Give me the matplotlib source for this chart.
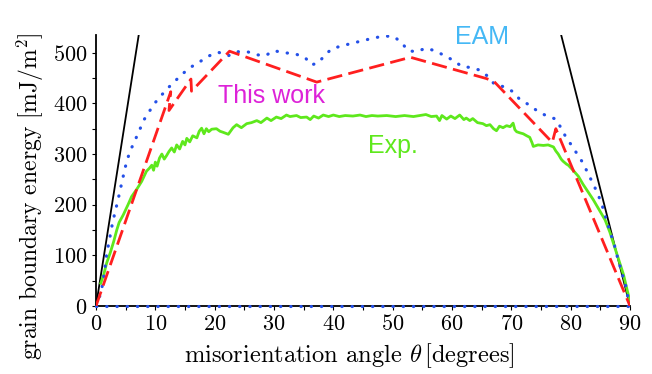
import matplotlib
matplotlib.use("Agg")
import matplotlib.pyplot as plt

plt.rcParams['font.family'] = 'serif'
plt.rcParams['font.serif'] = ['cmr10']
plt.rcParams['mathtext.fontset'] = 'cm'
plt.rcParams['axes.formatter.use_mathtext'] = True

# ---- data ----
theta_eam = [0, 0.84, 1.18, 1.4, 1.68, 1.8, 2.2, 2.47, 2.81, 3.2,
             3.64, 4.04, 4.43, 4.8, 5.2, 5.84, 6.57, 7.3, 8.0, 8.98,
             9.8, 10.95, 12.1, 13.4, 14.65, 16.05, 17.6, 19.1, 20.6, 22.3,
             23.7, 25.5, 27.1, 28.5, 30.0, 31.7, 33.5, 35.2, 36.3, 37.5,
             38.6, 39.8, 41.55, 43.3, 45.0, 46.8, 48.5, 50.2, 51.5, 52.6,
             54.0, 55.6, 57.1, 58.8, 60.5, 61.6, 63.0, 64.6, 66.1, 67.2,
             68.7, 70.3, 71.4, 73.0, 74.5, 76.0, 77.5, 78.4, 79.3, 80.3,
             81.2, 82.1, 82.9, 83.8, 84.5, 85.2, 85.7, 86.2, 86.7, 87.3,
             87.7, 88.2, 88.6, 89.2, 89.5, 90.0]
energy_eam = [0, 26, 48, 68, 88, 106, 125, 145, 165, 185,
              206, 227, 248, 267, 287, 308, 327, 346, 366, 384,
              399, 415, 430, 445, 459, 472, 483, 494, 501, 494,
              502, 502, 496, 494, 504, 500, 498, 491, 476, 480,
              496, 508, 514, 519, 524, 529, 533, 532, 520, 504,
              502, 509, 504, 494, 483, 473, 471, 466, 453, 437,
              433, 423, 408, 397, 384, 375, 369, 351, 331, 315,
              298, 282, 262, 241, 223, 203, 183, 163, 144, 124,
              104, 84, 66, 45, 25, 0]

theta_work = [0, 12.6, 12.3, 16.0, 16.1, 22.5, 37.2, 53.0, 65.8, 67.1, 76.9, 77.5, 90.0]
energy_work = [0, 423, 386, 448, 424, 503, 442, 491, 449, 443, 323, 350, 0]

theta_exp = [0.8, 1.3, 1.8, 2.4, 3.0, 3.5, 3.9, 4.6, 5.4, 6.0,
             6.9, 7.7, 8.5, 9.0, 9.4, 9.7, 10.0, 10.3, 10.7, 11.1,
             11.5, 11.9, 12.3, 12.75, 13.2, 13.6, 14.1, 14.6, 15.0, 15.3,
             15.8, 16.3, 17.0, 17.4, 17.8, 18.2, 18.6, 19.0, 19.5, 20.3,
             20.9, 21.4, 22.3, 23.1, 23.7, 24.5, 25.4, 26.2, 27.1, 27.8,
             28.8, 29.5, 30.4, 31.2, 32.1, 32.7, 33.8, 34.5, 35.5, 36.1,
             36.7, 37.5, 38.3, 39.2, 40.0, 41.0, 42.0, 43.3, 44.5, 45.5,
             46.5, 47.5, 49.0, 50.5, 52.0, 53.5, 54.6, 55.6, 56.5, 57.4,
             57.9, 58.3, 59.1, 59.8, 60.5, 61.3, 62.0, 62.4, 63.0, 63.5,
             64.3, 65.2, 65.8, 66.4, 67.0, 67.5, 68.0, 68.6, 69.2, 69.8,
             70.3, 70.6, 70.9, 71.4, 72.0, 72.6, 73.1, 73.5, 73.7, 74.5,
             75.4, 76.2, 77.1, 77.5, 77.9, 78.4, 78.7, 79.3, 79.6, 80.4,
             81.3, 82.1, 82.9, 83.8, 84.9, 85.8, 86.6, 87.7, 88.9, 90.0]
energy_exp = [45, 62, 85, 105, 128, 150, 165, 180, 200, 216,
              231, 246, 266, 272, 278, 268, 284, 276, 292, 300,
              290, 297, 305, 312, 304, 318, 310, 325, 318, 331,
              324, 336, 332, 345, 351, 340, 350, 344, 349, 350,
              345, 343, 339, 352, 358, 352, 360, 362, 366, 362,
              371, 366, 373, 370, 377, 374, 376, 372, 373, 368,
              375, 371, 377, 374, 377, 374, 376, 375, 377, 374,
              376, 375, 376, 374, 376, 374, 376, 378, 374, 375,
              366, 376, 369, 375, 370, 377, 368, 371, 366, 370,
              362, 360, 356, 358, 350, 346, 355, 352, 356, 354,
              361, 348, 344, 342, 340, 336, 333, 322, 315, 318,
              317, 318, 314, 306, 300, 290, 286, 280, 278, 268,
              256, 240, 226, 210, 188, 170, 146, 106, 62, 8]

theta_rs_low = [0, 7.2]
energy_rs_low = [0, 535]
theta_rs_high = [78.4, 90]
energy_rs_high = [535, 0]

baseline_theta = [0, 90]
baseline_energy = [0, 0]

x_ticks = [0, 10, 20, 30, 40, 50, 60, 70, 80, 90]
y_ticks = [0, 100, 200, 300, 400, 500]

W, H = 652, 374

# ---- figure ----
fig = plt.figure(figsize=(6.52, 3.74), dpi=100)
ax = fig.add_axes([96/W, 1-306/H, (630-96)/W, (306-35)/H])
ax.set_xlim(0, 90)
ax.set_ylim(0, 535)

dot_style = (0, (0.1, 3.1))
ax.plot(baseline_theta, baseline_energy, color='black', lw=1.3, zorder=2, clip_on=False)
ax.plot(baseline_theta, baseline_energy, color='#2450e8', lw=2.3, ls=dot_style,
        dash_capstyle='round', zorder=3, clip_on=False)

ax.plot(theta_rs_low, energy_rs_low, color='black', lw=1.3, zorder=3)
ax.plot(theta_rs_high, energy_rs_high, color='black', lw=1.3, zorder=3)

ax.plot(theta_exp, energy_exp, color='#5ee81c', lw=2.0, zorder=4)
ax.plot(theta_eam, energy_eam, color='#2450e8', lw=2.3, ls=dot_style,
        dash_capstyle='round', zorder=5)
ax.plot(theta_work, energy_work, color='#ff1f1f', lw=2.0, ls=(0, (5.5, 2.3)), zorder=6)

fig.text(482/W, 1-37/H, 'EAM', color='#45b8f5', fontsize=18,
         family='Liberation Sans', ha='center', va='center')
fig.text(271/W, 1-96/H, 'This work', color='#dd22d8', fontsize=18,
         family='Liberation Sans', ha='center', va='center')
fig.text(393/W, 1-146/H, 'Exp.', color='#5ee81c', fontsize=18,
         family='Liberation Sans', ha='center', va='center')

for s in ['top', 'right', 'bottom']:
    ax.spines[s].set_visible(False)
ax.spines['left'].set_linewidth(1.3)

ax.set_xticks(x_ticks)
ax.set_xticks([5, 15, 25, 35, 45, 55, 65, 75, 85], minor=True)
ax.set_yticks(y_ticks)
ax.set_yticks([50, 150, 250, 350, 450], minor=True)
ax.tick_params(which='both', direction='out', length=3, width=0.8, labelsize=16, pad=3)

ax.set_xlabel(r'misorientation angle $\theta\,$[degrees]', fontsize=17.6)
ax.set_ylabel(r'grain boundary energy [mJ/m$^2$]', fontsize=17.0)
ax.xaxis.set_label_coords((349-96)/534, (306-356)/271)
ax.yaxis.set_label_coords((30-96)/534, (306-196)/271)
ax.xaxis.label.set_va('center')
ax.yaxis.label.set_va('center')

fig.savefig('out.png', dpi=100)
